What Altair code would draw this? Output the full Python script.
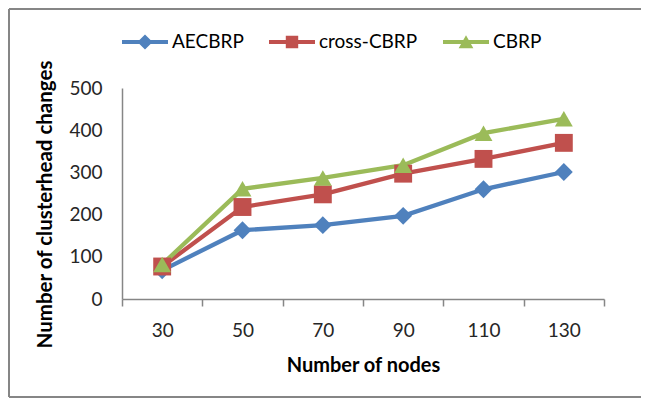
import altair as alt
import pandas as pd

nodes = [30, 50, 70, 90, 110, 130]
series_names = ["AECBRP", "cross-CBRP", "CBRP"]
aecbrp = [68, 163, 175, 197, 260, 301]
cross_cbrp = [77, 218, 248, 297, 332, 370]
cbrp = [82, 261, 287, 317, 393, 427]
colors = ["#4F81BD", "#C0504D", "#9BBB59"]
x_ticks = [20, 30, 40, 50, 60, 70, 80, 90, 100, 110, 120, 130, 140]
y_ticks = [0, 100, 200, 300, 400, 500]

rows = []
for name, vals in zip(series_names, [aecbrp, cross_cbrp, cbrp]):
    for n, v in zip(nodes, vals):
        rows.append({"nodes": n, "value": v, "series": name})
df = pd.DataFrame(rows)

FONT = "Lato"
W, H = 482, 211
PAD = {"left": 114, "top": 80, "right": 37, "bottom": 99}

# legend symbols: line segment + marker (custom paths in [-1,1])
line_path = "M-1,-0.087L1,-0.087L1,0.087L-1,0.087Z"
legend_shapes = [
    line_path + "M0,-0.33L0.33,0L0,0.33L-0.33,0Z",
    line_path + "M-0.27,-0.27L0.27,-0.27L0.27,0.27L-0.27,0.27Z",
    line_path + "M0,-0.29L0.32,0.27L-0.32,0.27Z",
]

x_enc = alt.X(
    "nodes:Q",
    scale=alt.Scale(domain=[20, 140], nice=False, zero=False),
    axis=alt.Axis(
        values=x_ticks,
        labelExpr="datum.value % 20 == 10 ? datum.label : ''",
        tickOpacity={"condition": {"test": "datum.value % 20 == 0", "value": 1}, "value": 0},
        grid=False,
        title="Number of nodes",
        titleFont=FONT,
        titleFontSize=20,
        titleFontWeight="bold",
        titleColor="#000000",
        titleY=66,
        titleBaseline="middle",
        labelFont=FONT,
        labelFontSize=19,
        labelColor="#262626",
        labelPadding=15,
        labelOverlap=False,
        labelFlush=False,
        tickSize=7,
        tickColor="#868686",
        tickWidth=1.5,
        domainColor="#868686",
        domainWidth=1.5,
    ),
)
y_enc = alt.Y(
    "value:Q",
    scale=alt.Scale(domain=[0, 500], nice=False),
    axis=alt.Axis(
        values=y_ticks,
        grid=False,
        ticks=False,
        tickSize=0,
        title="Number of clusterhead changes",
        titleFont=FONT,
        titleFontSize=20.5,
        titleFontWeight="bold",
        titleColor="#000000",
        titleX=-77,
        titleY=116,
        titleBaseline="middle",
        titleAngle=270,
        labelFont=FONT,
        labelFontSize=19,
        labelColor="#262626",
        labelPadding=20,
        domainColor="#868686",
        domainWidth=1.5,
    ),
)

color_scale = alt.Scale(domain=series_names, range=colors)

lines = alt.Chart(df).mark_line(strokeWidth=4.3).encode(
    x=x_enc, y=y_enc,
    color=alt.Color("series:N", scale=color_scale, legend=None),
    detail="series:N",
)
points = alt.Chart(df).mark_point(filled=True, size=320, opacity=1).encode(
    x="nodes:Q", y="value:Q",
    color=alt.Color("series:N", scale=color_scale, legend=None),
    shape=alt.Shape("series:N", scale=alt.Scale(domain=series_names, range=["diamond", "square", "triangle-up"]), legend=None),
)
leg = dict(
    title=None, orient="none", legendX=0, legendY=-69, direction="horizontal",
    symbolSize=2116, symbolStrokeWidth=0, symbolOpacity=1,
    labelFont=FONT, labelFontSize=19, labelColor="#000000",
    labelOffset=4, columnPadding=25, padding=0,
)
legend_layer = alt.Chart(df).mark_point(filled=True, opacity=0).encode(
    x="nodes:Q", y="value:Q",
    color=alt.Color("series:N", scale=color_scale, legend=alt.Legend(**leg)),
    shape=alt.Shape("series:N", scale=alt.Scale(domain=series_names, range=legend_shapes), legend=alt.Legend(**leg)),
)

# chart-area border (left, top, bottom edges; right edge lies outside the picture)
fdf = pd.DataFrame({"a": [0]})
fstyle = dict(stroke="#868686", strokeWidth=2)
frame_left = alt.Chart(fdf).mark_rule(**fstyle).encode(
    x=alt.value(-PAD["left"] + 1), y=alt.value(-PAD["top"] + 1), y2=alt.value(H + PAD["bottom"] - 1))
frame_top = alt.Chart(fdf).mark_rule(**fstyle).encode(
    x=alt.value(-PAD["left"] + 1), x2=alt.value(W + PAD["right"]), y=alt.value(-PAD["top"] + 1))
frame_bottom = alt.Chart(fdf).mark_rule(**fstyle).encode(
    x=alt.value(-PAD["left"] + 1), x2=alt.value(W + PAD["right"]), y=alt.value(H + PAD["bottom"] - 1))

chart = alt.layer(frame_left, frame_top, frame_bottom, lines, points, legend_layer).resolve_scale(
    color="independent", shape="independent"
).properties(
    width=W, height=H, padding=PAD, autosize=alt.AutoSizeParams(type="none"),
    background="white",
).configure_view(stroke=None)

chart.save("out.html", embed_options={"renderer": "svg", "actions": False})
